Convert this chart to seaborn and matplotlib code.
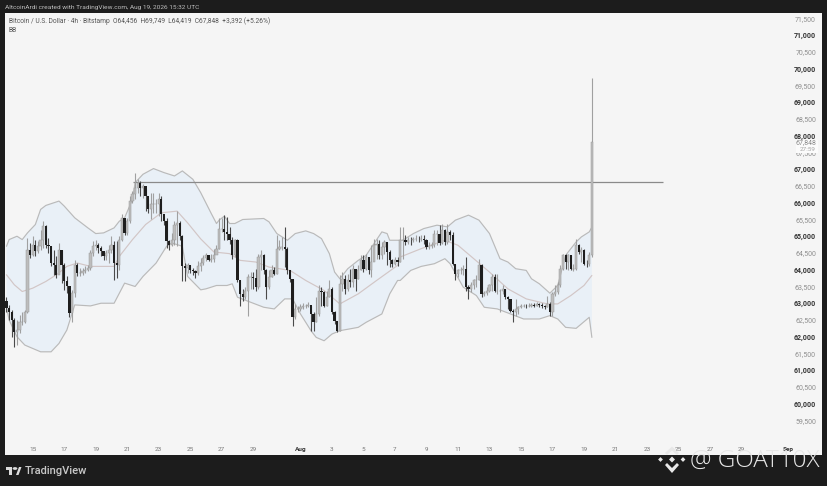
import matplotlib
matplotlib.use('Agg')
import matplotlib.pyplot as plt
import numpy as np
import pandas as pd
import seaborn as sns
from matplotlib.patches import Circle, Polygon, Rectangle
from matplotlib.transforms import blended_transform_factory

# 4h candles, Jul 13 08:00 -> Aug 19 12:00
closes = [
    62880, 62780, 62530, 62180, 62230, 62480, 62480, 62760, 64630, 64480, 64780, 64580, 64730, 64930, 65330, 64780,
    64730, 64230, 64180, 63880, 64630, 64180, 63680, 63530, 62730, 63330, 64180, 63930, 63930, 63980, 64010, 64080,
    64530, 64730, 64780, 64680, 64580, 64430, 64530, 64630, 64780, 64230, 64180, 64930, 65580, 65130, 65480, 66080,
    66280, 66480, 66630, 66480, 66530, 66230, 65830, 65980, 65980, 65980, 66130, 65680, 65480, 64880, 64780, 64930,
    65380, 65430, 65030, 64130, 64080, 64180, 64030, 63980, 63930, 64130, 64230, 64380, 64480, 64330, 64360, 64460,
    64660, 65260, 65260, 65160, 65110, 64910, 64460, 64910, 63710, 63310, 63210, 63410, 63810, 63810, 63790, 63510,
    64410, 64460, 64010, 63510, 63810, 64010, 63910, 64660, 64710, 64710, 64660, 64010, 63760, 62610, 62860, 62860,
    62910, 62960, 62960, 62990, 62710, 62460, 62710, 63410, 63360, 62960, 63210, 63460, 62760, 62490, 62210, 63610,
    63760, 63460, 63710, 63660, 64060, 63760, 64010, 64310, 64060, 64410, 64010, 64260, 64760, 64810, 64460, 64710,
    64860, 64560, 64310, 64190, 64310, 64260, 64910, 64910, 64860, 64930, 64910, 64960, 64960, 64940, 64960, 64910,
    64710, 64730, 64760, 65110, 65110, 64830, 65210, 64860, 65160, 65060, 64210, 63910, 64010, 64010, 64060, 63510,
    63460, 63560, 63710, 63730, 64160, 63310, 63330, 63410, 63560, 63810, 63410, 63410, 63410, 63460, 63210, 63160,
    62810, 62760, 62860, 62910, 62960, 62960, 62940, 62960, 62980, 62960, 63010, 62990, 62960, 62910, 63010, 62760,
    63310, 63360, 63560, 64060, 64460, 64260, 64460, 64060, 64060, 64760, 64560, 64610, 64210, 64190, 64456, 67848,
]
highs = [
    63230, 62980, 62830, 62580, 62530, 62680, 62780, 62830, 64980, 64830, 65030, 64930, 64880, 65230, 65480, 65380,
    64980, 64730, 64630, 64430, 64830, 64630, 64230, 63830, 63530, 63430, 64330, 64230, 64080, 64080, 64130, 64180,
    64630, 64880, 64930, 64830, 64730, 64580, 64630, 64780, 65030, 64880, 64880, 65030, 65680, 65580, 65580, 66230,
    66380, 66930, 66730, 66680, 66580, 66430, 66180, 66330, 66330, 66130, 66330, 66230, 65630, 65580, 64930, 65130,
    65480, 65780, 65480, 65080, 64230, 64230, 64180, 64080, 64030, 64280, 64380, 64480, 64530, 64480, 64510, 64660,
    64760, 65560, 65560, 65660, 65610, 65310, 65010, 64960, 64960, 63710, 63460, 63510, 63910, 63960, 63960, 64060,
    64510, 64610, 64510, 64060, 64010, 64160, 64110, 65060, 64910, 65010, 65310, 64710, 64010, 63760, 63010, 62960,
    63010, 63030, 63010, 63060, 62960, 62760, 63210, 63560, 63510, 63410, 63410, 63710, 63510, 62810, 62510, 63860,
    63960, 63860, 63910, 64060, 64160, 64060, 64160, 64460, 64460, 64510, 64410, 64760, 64960, 64960, 64910, 64860,
    64910, 64860, 64610, 64360, 64410, 64410, 65310, 65310, 65060, 65010, 65010, 65010, 65060, 65030, 65060, 65060,
    64960, 64860, 64860, 65210, 65210, 65360, 65410, 65260, 65410, 65210, 65160, 64210, 64060, 64110, 64160, 64410,
    63560, 63660, 63760, 63860, 64360, 64190, 63410, 63510, 63610, 63910, 63910, 63910, 63460, 63560, 63460, 63260,
    63160, 62860, 63160, 62960, 63010, 63010, 63010, 63030, 63030, 63030, 63060, 63050, 63030, 62990, 63260, 63060,
    63360, 63560, 63660, 64160, 64510, 64510, 64510, 64460, 64210, 64960, 64810, 64710, 64660, 64310, 64560, 69749,
]
lows = [
    62780, 62530, 62030, 61730, 61780, 62130, 62380, 62430, 62730, 64380, 64430, 64430, 64530, 64630, 64680, 64680,
    64530, 64130, 63880, 63780, 63930, 63630, 63430, 63330, 62630, 62480, 63230, 63830, 63830, 63880, 63930, 63980,
    64030, 64430, 64630, 64530, 64430, 64330, 64330, 64230, 64530, 63730, 63780, 64030, 64880, 65080, 65080, 65430,
    66030, 66130, 66330, 66230, 66180, 65780, 65730, 65530, 65730, 65730, 65630, 65480, 65380, 64680, 64630, 64730,
    64780, 64730, 64930, 63680, 63680, 63930, 63930, 63880, 63780, 63880, 63980, 64180, 64280, 64280, 64260, 64260,
    64510, 64660, 65160, 64910, 64910, 64810, 64360, 64410, 63660, 62960, 63110, 63160, 62660, 63460, 63460, 63410,
    63460, 64010, 63910, 63160, 63460, 63810, 63860, 63910, 64610, 64610, 64110, 63910, 63660, 62360, 62560, 62760,
    62810, 62860, 62890, 62910, 62210, 62210, 62460, 62660, 62960, 62910, 62960, 63210, 62710, 62410, 62160, 62210,
    63410, 63310, 63410, 63510, 63510, 63410, 63760, 64010, 63960, 64010, 63910, 63810, 64310, 64360, 64360, 64360,
    64510, 64160, 64110, 64110, 64160, 64130, 64260, 64360, 64760, 64810, 64760, 64860, 64890, 64860, 64890, 64810,
    64660, 64660, 64690, 64710, 64760, 64760, 64810, 64760, 64810, 64910, 64160, 63710, 63810, 63910, 63860, 63410,
    63160, 63360, 63460, 63510, 63710, 63210, 63260, 63290, 63360, 63410, 63360, 63310, 62760, 63310, 63160, 62860,
    62760, 62460, 62660, 62710, 62890, 62910, 62890, 62910, 62910, 62910, 62940, 62910, 62890, 62860, 62910, 62660,
    62660, 63260, 63310, 63510, 64010, 64060, 64010, 64010, 63980, 64010, 64510, 64260, 64160, 64110, 64130, 64419,
]
first_open = 63100

# bollinger bands, knots are (candle number, price)
upper_idx = [0, 1, 4, 6, 8, 11, 13, 15, 20, 22, 26, 31, 34, 37, 41, 43, 45, 48, 49, 52, 56, 60, 64, 67, 71, 74, 78, 80,
             81, 83, 85, 87, 90, 98, 100, 103, 107, 110, 114, 117, 120, 123, 125, 127, 130, 134, 137, 140, 143, 145,
             146, 151, 155, 159, 164, 168, 171, 176, 180, 184, 188, 191, 194, 198, 200, 203, 207, 210, 213, 217, 219,
             222, 223]
upper_val = [64730, 64930, 65030, 64930, 65130, 65380, 65830, 65950, 66080, 65930, 65580, 65280, 65110, 65130, 65280,
             65480, 65580, 66130, 66630, 66880, 67050, 66930, 66830, 66980, 66730, 66330, 65710, 65410, 65510, 65630,
             65410, 65410, 65530, 65560, 65460, 65110, 64910, 65110, 65190, 65110, 64960, 64510, 63960, 63760, 64060,
             64310, 64460, 64810, 65160, 65110, 64910, 64910, 65110, 65260, 65360, 65310, 65510, 65660, 65510, 65110,
             64360, 64260, 64060, 64010, 63760, 63610, 63330, 63560, 64460, 64860, 65010, 65160, 65300]
mid_idx = [0, 3, 6, 10, 15, 19, 23, 27, 32, 41, 43, 48, 53, 59, 65, 69, 74, 79, 85, 89, 95, 100, 108, 114, 121, 127,
           134, 141, 149, 150, 158, 167, 172, 178, 184, 191, 198, 206, 210, 215, 220, 223]
mid_val = [63880, 63580, 63380, 63480, 63680, 63880, 64130, 64230, 64130, 64130, 64430, 64930, 65380, 65730, 65780,
           65430, 64950, 64560, 64510, 64310, 64260, 64110, 64010, 63710, 63410, 63010, 63310, 63710, 64160, 64410,
           64660, 64910, 64760, 64360, 63960, 63460, 63160, 63010, 63010, 63260, 63560, 63860]
lower_idx = [0, 1, 4, 7, 13, 17, 20, 23, 26, 32, 36, 41, 45, 49, 52, 57, 61, 63, 67, 69, 74, 76, 80, 84, 86, 88, 93, 98,
             102, 106, 109, 112, 116, 118, 121, 124, 127, 134, 137, 143, 146, 149, 150, 154, 158, 163, 167, 169, 174,
             179, 182, 187, 192, 197, 203, 207, 210, 213, 217, 222, 223]
lower_val = [62930, 62530, 62030, 61780, 61580, 61580, 61830, 62230, 62980, 62950, 63030, 63030, 63630, 63530, 63830,
             64230, 64730, 64830, 64730, 63830, 63430, 63460, 63560, 63560, 63610, 63210, 63060, 62910, 62860, 63160,
             63160, 62710, 62210, 62010, 61910, 62110, 62210, 62310, 62460, 62710, 63310, 63710, 63710, 64010, 64130,
             64210, 64360, 64210, 63510, 63260, 62910, 62860, 62710, 62560, 62560, 62660, 62560, 62310, 62280, 62610,
             62010]

level_price = 66640
level_start = '2026-07-21 09:00'
level_end = '2026-08-24 00:00'

price_ticks = [59500, 60000, 60500, 61000, 61500, 62000, 62500, 63000, 63500, 64000, 64500, 65000, 65500, 66000,
               66500, 67000, 67500, 68000, 68500, 69000, 69500, 70000, 70500, 71000, 71500]
date_ticks = ['2026-07-15', '2026-07-17', '2026-07-19', '2026-07-21', '2026-07-23', '2026-07-25', '2026-07-27',
              '2026-07-29', '2026-08-01', '2026-08-03', '2026-08-05', '2026-08-07', '2026-08-09', '2026-08-11',
              '2026-08-13', '2026-08-15', '2026-08-17', '2026-08-19', '2026-08-21', '2026-08-23', '2026-08-25',
              '2026-08-27', '2026-08-29', '2026-09-01']
date_labels = ['15', '17', '19', '21', '23', '25', '27', '29', 'Aug', '3', '5', '7', '9', '11', '13', '15', '17', '19',
               '21', '23', '25', '27', '29', 'Sep']

sns.set_theme(style='white')
plt.rcParams['font.family'] = ['Roboto', 'DejaVu Sans']

df = pd.DataFrame({'time': pd.date_range('2026-07-13 08:00', periods=len(closes), freq='4h'),
                   'close': closes, 'high': highs, 'low': lows})
df['open'] = [first_open] + closes[:-1]
up = df[df.close >= df.open]
down = df[df.close < df.open]

W, H = 828, 486
fig = plt.figure(figsize=(W / 100, H / 100), dpi=100, facecolor='#1c1c1c')
ax = fig.add_axes([5 / W, 1 - 455 / H, (822 - 5) / W, (455 - 13.5) / H], facecolor='#f5f5f5')

t = df.time.values
upper_t, upper_p = t[upper_idx], np.array(upper_val)
lower_t, lower_p = t[lower_idx], np.array(lower_val)
ax.fill(np.r_[upper_t, lower_t[::-1]], np.r_[upper_p, lower_p[::-1]], color='#e9f0f7', lw=0, zorder=1)
sns.lineplot(x=upper_t, y=upper_p, color='#bababa', lw=0.85, ax=ax, estimator=None, zorder=2)
sns.lineplot(x=lower_t, y=lower_p, color='#bababa', lw=0.85, ax=ax, estimator=None, zorder=2)
sns.lineplot(x=t[mid_idx], y=mid_val, color='#d2c6c6', lw=0.85, ax=ax, estimator=None, zorder=2)

ax.hlines(level_price, pd.Timestamp(level_start), pd.Timestamp(level_end), color='#8a8a8a', lw=0.9, zorder=3)

ax.vlines(up.time, up.low, up.high, color='#a0a0a0', lw=0.8, zorder=4)
ax.vlines(down.time, down.low, down.high, color='#4a4a4a', lw=0.8, zorder=4)
bar_w = pd.Timedelta(hours=3.4)
ax.bar(up.time, up.close - up.open, bottom=up.open, width=bar_w, color='#bdbdbd', edgecolor='#9a9a9a', lw=0.35, zorder=5)
ax.bar(down.time, down.close - down.open, bottom=down.open, width=bar_w, color='#1e1e1e', lw=0, zorder=5)

# y = 13.5 and 455 in the picture, x = 5 and 822
ax.set_ylim(58499, 71680)
ax.set_xlim(pd.Timestamp('2026-07-13 05:45'), pd.Timestamp('2026-09-03 02:40'))
ax.set_xlabel('')
ax.set_ylabel('')
ax.set_xticks([])
ax.set_yticks([])

# axis labels sit inside the panel, as on the TradingView export
y_trans = blended_transform_factory(fig.transFigure, ax.transData)
for p in price_ticks:
    major = p % 1000 == 0
    ax.text(816 / W, p, f'{p:,}', transform=y_trans, ha='right', va='center', fontsize=5,
            color='#333333' if major else '#8f8f8f', fontweight='bold' if major else 'normal', clip_on=False, zorder=3)

x_trans = blended_transform_factory(ax.transData, fig.transFigure)
for d, txt in zip(pd.to_datetime(date_ticks), date_labels):
    major = txt in ('Aug', 'Sep')
    ax.text(d, 1 - 449.5 / H, txt, transform=x_trans, ha='center', va='center', fontsize=4.6,
            color='#333333' if major else '#777777', fontweight='bold' if major else 'normal', clip_on=False)

for s in ax.spines.values():
    s.set_visible(False)

# live price tag over the axis labels
tag = Rectangle((796 / W, 1 - 153 / H), 22 / W, 13.5 / H, transform=fig.transFigure, color='#fbfbfb', lw=0, zorder=6)
ax.add_patch(tag)
tag.set_clip_on(False)
ax.text(816 / W, 1 - 142.5 / H, '67,848', transform=fig.transFigure, ha='right', va='center', fontsize=5,
        color='#8a8a8a', zorder=7)
ax.text(816 / W, 1 - 149.5 / H, '27:59', transform=fig.transFigure, ha='right', va='center', fontsize=4.6,
        color='#a5a5a5', zorder=7)

fig.text(5 / W, 1 - 7.5 / H, 'AltcoinArdi created with TradingView.com, Aug 19, 2026 15:32 UTC', fontsize=4.65,
         color='#bdbdbd', va='center')
ax.text(9 / W, 1 - 21 / H, 'Bitcoin / U.S. Dollar · 4h · Bitstamp  O64,456  H69,749  L64,419  C67,848  +3,392 (+5.26%)',
        transform=fig.transFigure, fontsize=4.75, color='#555555', va='center')
ax.text(9 / W, 1 - 30 / H, 'BB', transform=fig.transFigure, fontsize=4.75, color='#555555', va='center')


def px_poly(points, color='#e8e8e8'):
    # polygon given in picture pixels, drawn on top of everything
    xy = [(x / W, 1 - y / H) for x, y in points]
    fig.patches.append(Polygon(xy, transform=fig.transFigure, color=color, lw=0, zorder=10))


# footer: TradingView mark and name
fig.patches.append(Rectangle((6 / W, 1 - 470 / H), 6.5 / W, 3 / H, transform=fig.transFigure, color='#dcdcdc', lw=0))
fig.patches.append(Rectangle((9 / W, 1 - 475 / H), 3.5 / W, 6 / H, transform=fig.transFigure, color='#dcdcdc', lw=0))
px_poly([(16, 475), (19, 467), (21.5, 467), (18.5, 475)], '#dcdcdc')
fig.patches.append(Circle((15 / W, 1 - 468.5 / H), 1.4 / H, transform=fig.transFigure, color='#dcdcdc', lw=0))
fig.text(24.5 / W, 1 - 471 / H, 'TradingView', fontsize=8, color='#c9c9c9', va='center', fontweight='medium')

# watermark: binance style mark and handle
for cx, cy, r in [(660.5, 459.5, 2.4), (672, 459.5, 3), (683, 459.5, 2.4)]:
    px_poly([(cx - r, cy), (cx, cy - r), (cx + r, cy), (cx, cy + r)])
px_poly([(665, 453), (672, 446.5), (679, 453), (677, 455), (672, 450.5), (667, 455)])
px_poly([(665, 465), (667, 463), (672, 468), (677, 463), (679, 465), (672, 473)])
fig.text(820 / W, 1 - 460.5 / H, '@ GOAT10X', fontsize=17.5, color='#e6e6e6', ha='right', va='center',
         family=['Open Sans', 'DejaVu Sans'], fontweight='light')

fig.savefig('out.png', dpi=100, facecolor=fig.get_facecolor())
